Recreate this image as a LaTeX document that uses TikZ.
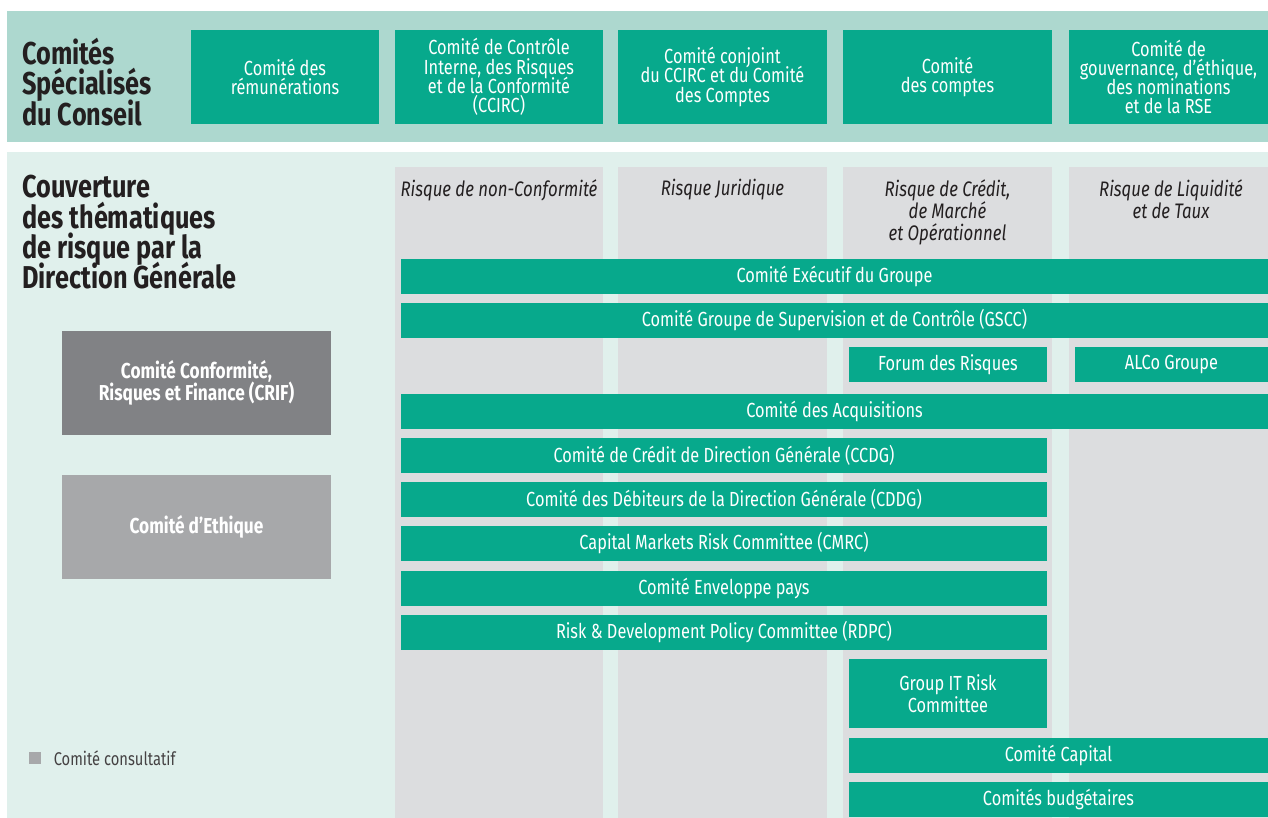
\documentclass[tikz,border=0pt]{standalone}
\usepackage{fontspec}
\setmainfont{Fira Sans}[FakeStretch=0.8]
\usetikzlibrary{positioning}

\definecolor{bandtop}{HTML}{ADD8CF}
\definecolor{bandlow}{HTML}{E0F0EC}
\definecolor{colgray}{HTML}{DCDDDF}
\definecolor{comgreen}{HTML}{07A98C}
\definecolor{crifgray}{HTML}{818285}
\definecolor{ethgray}{HTML}{A7A8AA}
\definecolor{textdark}{HTML}{231F20}

\begin{document}
\setlength{\lineskiplimit}{-10pt}
\begin{tikzpicture}[x=0.5pt, y=-0.5pt,
    com/.style={fill=comgreen, text=white, inner sep=0pt, align=center,
        font=\fontsize{10.2}{9.6}\selectfont},
    topbox/.style={com, minimum height=47pt},
    bar/.style={com, minimum height=17.5pt},
    head/.style={anchor=north, align=center, text=textdark, inner sep=0pt,
        font=\itshape\fontsize{10.5}{11}\selectfont},
    title/.style={anchor=north west, align=left, text=textdark, inner sep=0pt,
        font=\bfseries\fontsize{15.8}{15.1}\selectfont},
    advbox/.style={text=white, align=center, inner sep=0pt,
        minimum width=134.5pt, minimum height=52pt,
        font=\bfseries\fontsize{10.8}{11}\selectfont}]
    \useasboundingbox (0,0) rectangle (1268,818);

    % bandeaux
    \fill[bandtop] (7,11) rectangle (1268,142);
    \fill[bandlow] (7,152) rectangle (1268,818);
    \foreach \xa/\xb in {395/603, 618/827, 843/1052, 1069/1268}
        \fill[colgray] (\xa,167) rectangle (\xb,818);

    % comites specialises du conseil
    \node[title] (conseil) at (22,38) {Comités\\Spécialisés\\du Conseil};
    \node[topbox, minimum width=94pt] (remun) at (285,77) {Comité des\\rémunérations};
    \node[topbox, minimum width=104pt] (ccirc) at (499,77) {Comité de Contrôle\\Interne, des Risques\\et de la Conformité\\(CCIRC)};
    \node[topbox, minimum width=104.5pt] (conjoint) at (722.5,77) {Comité conjoint\\du CCIRC et du Comité\\des Comptes};
    \node[topbox, minimum width=104.5pt] (comptes) at (947.5,77) {Comité\\des comptes};
    \node[topbox, minimum width=99.5pt] (gouv) at (1168.5,77) {Comité de\\gouvernance, d’éthique,\\des nominations\\et de la RSE};

    % couverture des risques
    \node[title] (couv) at (22,175) {Couverture\\des thématiques\\de risque par la\\Direction Générale};
    \node[head] (hconf) at (499,179) {Risque de non-Conformité};
    \node[head] (hjur) at (722.5,179) {Risque Juridique};
    \node[head] (hcred) at (947.5,179) {Risque de Crédit,\\de Marché\\et Opérationnel};
    \node[head] (hliq) at (1171,179) {Risque de Liquidité\\et de Taux};

    \node[bar, minimum width=433.5pt] (exec) at (834.5,276.5) {Comité Exécutif du Groupe};
    \node[bar, minimum width=433.5pt] (gscc) at (834.5,320.5) {Comité Groupe de Supervision et de Contrôle (GSCC)};
    \node[bar, minimum width=99pt] (forum) at (948,364.5) {Forum des Risques};
    \node[bar, minimum width=96.5pt] (alco) at (1171.5,364.5) {ALCo Groupe};
    \node[bar, minimum width=433.5pt] (acq) at (834.5,411.5) {Comité des Acquisitions};
    \node[bar, minimum width=323pt] (ccdg) at (724,455.5) {Comité de Crédit de Direction Générale (CCDG)};
    \node[bar, minimum width=323pt] (cddg) at (724,499.5) {Comité des Débiteurs de la Direction Générale (CDDG)};
    \node[bar, minimum width=323pt] (cmrc) at (724,543.5) {Capital Markets Risk Committee (CMRC)};
    \node[bar, minimum width=323pt] (envel) at (724,588.5) {Comité Enveloppe pays};
    \node[bar, minimum width=323pt] (rdpc) at (724,632.5) {Risk \& Development Policy Committee (RDPC)};
    \node[com, minimum width=99pt, minimum height=34.5pt,
        font=\fontsize{10.2}{11}\selectfont] (itrisk) at (948,693.5) {Group IT Risk\\Committee};
    \node[bar, minimum width=209.5pt] (capital) at (1058.5,755.5) {Comité Capital};
    \node[bar, minimum width=209.5pt] (budget) at (1058.5,799.5) {Comités budgétaires};

    % comites consultatifs
    \node[advbox, fill=crifgray] (crif) at (196.5,383) {Comité Conformité,\\Risques et Finance (CRIF)};
    \node[advbox, fill=ethgray] (ethique) at (196.5,527) {Comité d’Ethique};

    % legende
    \node[fill=ethgray, inner sep=0pt, minimum size=6pt] (legsq) at (35,758) {};
    \node[right=6pt of legsq, inner sep=0pt, text=textdark!85,
        font=\fontsize{9.2}{10}\selectfont] (legtxt) {Comité consultatif};
\end{tikzpicture}
\end{document}
